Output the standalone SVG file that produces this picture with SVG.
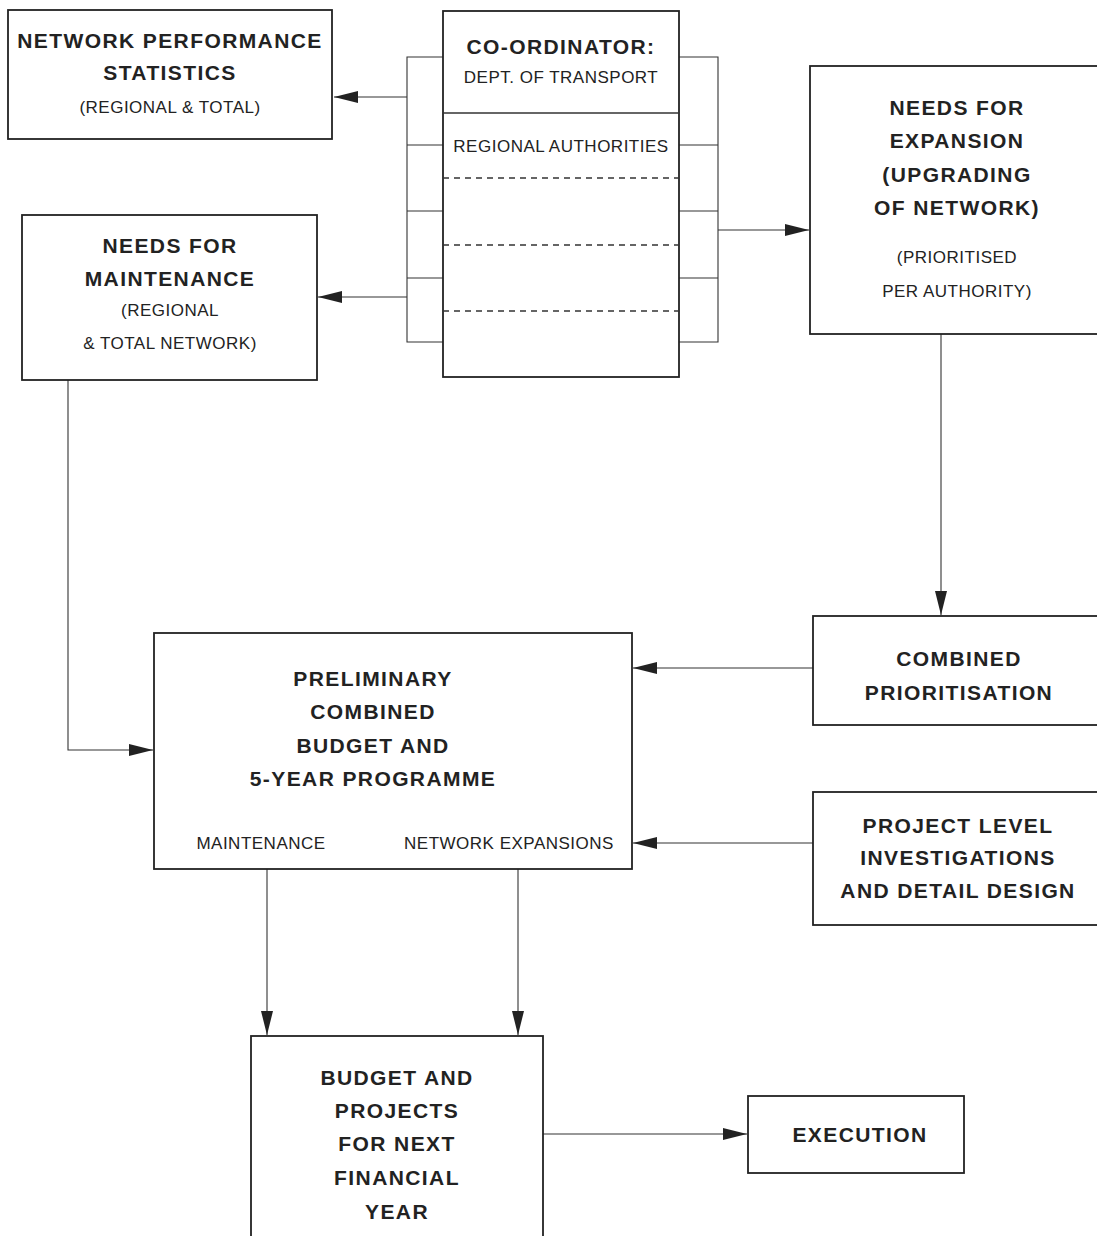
<svg xmlns="http://www.w3.org/2000/svg" width="1097" height="1236" viewBox="0 0 1097 1236">
<style>
.box{fill:#fff;stroke:#222;stroke-width:1.8}
.ln{fill:none;stroke:#333;stroke-width:1.1}
.dash{fill:none;stroke:#333;stroke-width:1.5;stroke-dasharray:6,5}
.b{font-family:"Liberation Sans",Arial,Helvetica,sans-serif;font-weight:bold;font-size:21px;letter-spacing:1.4px;fill:#222;text-anchor:middle}
.r{font-family:"Liberation Sans",Arial,Helvetica,sans-serif;font-size:17px;letter-spacing:0.5px;fill:#222;text-anchor:middle}
.arr{stroke:#333;stroke-width:1.1;fill:none;marker-end:url(#ah)}
</style>
<defs>
<marker id="ah" markerUnits="userSpaceOnUse" markerWidth="26" markerHeight="13" refX="24" refY="6" orient="auto">
<path d="M0,0 L24,6 L0,12 Z" fill="#222"/>
</marker>
</defs>
<rect x="0" y="0" width="1097" height="1236" fill="#fff"/>

<g id="connectors">
<path class="arr" d="M407,97 H334"/>
<path class="arr" d="M407,297 H318"/>
<path class="arr" d="M718,230 H809"/>
<path class="arr" d="M941,334 V615"/>
<path class="arr" d="M813,668 H633"/>
<path class="arr" d="M813,843 H633"/>
<path class="arr" d="M68,380 V750 H153"/>
<path class="arr" d="M267,869 V1035"/>
<path class="arr" d="M518,869 V1035"/>
<path class="arr" d="M543,1134 H747"/>
</g>

<g id="coordinator">
<path class="ln" d="M443,57 H407 V342 H443 M407,145 H443 M407,211 H443 M407,278 H443"/>
<path class="ln" d="M679,57 H718 V342 H679 M679,145 H718 M679,211 H718 M679,278 H718"/>
<rect class="box" x="443" y="11" width="236" height="366"/>
<line class="ln" x1="443" y1="113" x2="679" y2="113" style="stroke-width:1.6"/>
<line class="dash" x1="443" y1="178" x2="679" y2="178"/>
<line class="dash" x1="443" y1="245" x2="679" y2="245"/>
<line class="dash" x1="443" y1="311" x2="679" y2="311"/>
<text class="b" x="561" y="54">CO-ORDINATOR:</text>
<text class="r" x="561" y="83">DEPT. OF TRANSPORT</text>
<text class="r" x="561" y="152">REGIONAL AUTHORITIES</text>
</g>

<g id="network-stats">
<rect class="box" x="8" y="10" width="324" height="129"/>
<text class="b" x="170" y="48">NETWORK PERFORMANCE</text>
<text class="b" x="170" y="80">STATISTICS</text>
<text class="r" x="170" y="113">(REGIONAL &amp; TOTAL)</text>
</g>

<g id="needs-maintenance">
<rect class="box" x="22" y="215" width="295" height="165"/>
<text class="b" x="170" y="253">NEEDS FOR</text>
<text class="b" x="170" y="286">MAINTENANCE</text>
<text class="r" x="170" y="316">(REGIONAL</text>
<text class="r" x="170" y="349">&amp; TOTAL NETWORK)</text>
</g>

<g id="needs-expansion">
<rect class="box" x="810" y="66" width="300" height="268"/>
<text class="b" x="957" y="115">NEEDS FOR</text>
<text class="b" x="957" y="148">EXPANSION</text>
<text class="b" x="957" y="182">(UPGRADING</text>
<text class="b" x="957" y="215">OF NETWORK)</text>
<text class="r" x="957" y="263">(PRIORITISED</text>
<text class="r" x="957" y="297">PER AUTHORITY)</text>
</g>

<g id="combined-prioritisation">
<rect class="box" x="813" y="616" width="300" height="109"/>
<text class="b" x="959" y="666">COMBINED</text>
<text class="b" x="959" y="700">PRIORITISATION</text>
</g>

<g id="project-level">
<rect class="box" x="813" y="792" width="300" height="133"/>
<text class="b" x="958" y="833">PROJECT LEVEL</text>
<text class="b" x="958" y="865">INVESTIGATIONS</text>
<text class="b" x="958" y="898">AND DETAIL DESIGN</text>
</g>

<g id="preliminary">
<rect class="box" x="154" y="633" width="478" height="236"/>
<text class="b" x="373" y="686">PRELIMINARY</text>
<text class="b" x="373" y="719">COMBINED</text>
<text class="b" x="373" y="753">BUDGET AND</text>
<text class="b" x="373" y="786">5-YEAR PROGRAMME</text>
<text class="r" x="261" y="849">MAINTENANCE</text>
<text class="r" x="509" y="849">NETWORK EXPANSIONS</text>
</g>

<g id="budget">
<rect class="box" x="251" y="1036" width="292" height="220"/>
<text class="b" x="397" y="1085">BUDGET AND</text>
<text class="b" x="397" y="1118">PROJECTS</text>
<text class="b" x="397" y="1151">FOR NEXT</text>
<text class="b" x="397" y="1185">FINANCIAL</text>
<text class="b" x="397" y="1219">YEAR</text>
</g>

<g id="execution">
<rect class="box" x="748" y="1096" width="216" height="77"/>
<text class="b" x="860" y="1142">EXECUTION</text>
</g>
</svg>
